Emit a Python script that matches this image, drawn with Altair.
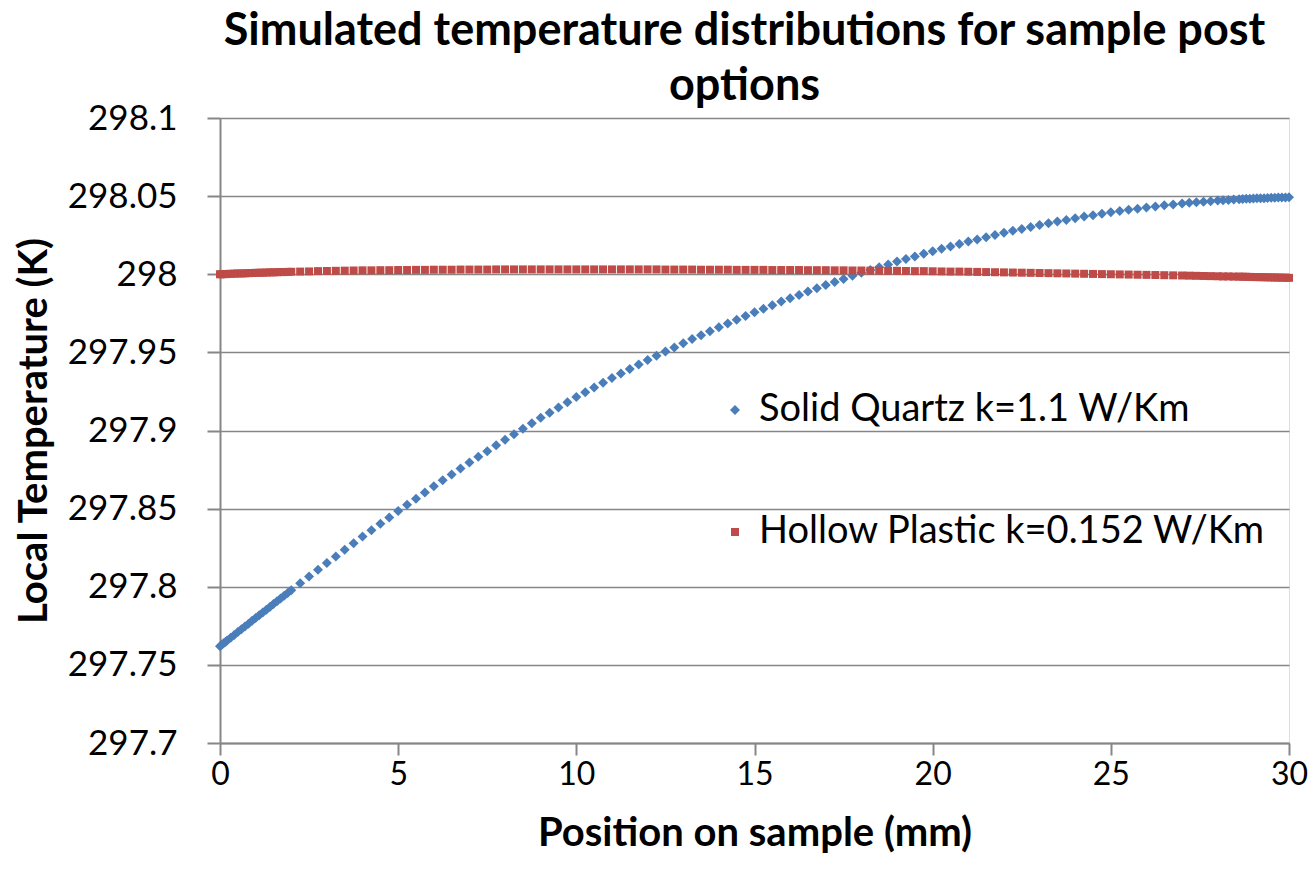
import altair as alt
import pandas as pd

# Position along the sample (mm) -- same mesh nodes for both series
position_mm = [
    0, 0.05, 0.1, 0.15, 0.2, 0.3, 0.4, 0.5, 0.6, 0.7, 0.8, 0.9, 1.0,
    1.1, 1.2, 1.3, 1.4, 1.5, 1.6, 1.7, 1.8, 1.9, 2.0,
    2.25, 2.5, 2.75, 3.0, 3.25, 3.5, 3.75, 4.0, 4.25, 4.5, 4.75, 5.0,
    5.25, 5.5, 5.75, 6.0, 6.25, 6.5, 6.75, 7.0, 7.25, 7.5, 7.75, 8.0,
    8.25, 8.5, 8.75, 9.0, 9.25, 9.5, 9.75, 10.0, 10.25, 10.5, 10.75, 11.0,
    11.25, 11.5, 11.75, 12.0, 12.25, 12.5, 12.75, 13.0, 13.25, 13.5, 13.75, 14.0,
    14.25, 14.5, 14.75, 15.0, 15.25, 15.5, 15.75, 16.0, 16.25, 16.5, 16.75, 17.0,
    17.25, 17.5, 17.75, 18.0, 18.25, 18.5, 18.75, 19.0, 19.25, 19.5, 19.75, 20.0,
    20.25, 20.5, 20.75, 21.0, 21.25, 21.5, 21.75, 22.0, 22.25, 22.5, 22.75, 23.0,
    23.25, 23.5, 23.75, 24.0, 24.25, 24.5, 24.75, 25.0, 25.25, 25.5, 25.75, 26.0,
    26.25, 26.5, 26.75, 27.0,
    27.2, 27.4, 27.6, 27.8, 28.0, 28.15, 28.3, 28.45, 28.6, 28.7, 28.8, 28.9, 29.0,
    29.1, 29.2, 29.3, 29.4, 29.5, 29.6, 29.7, 29.8, 29.9, 30.0,
]

# Solid Quartz k=1.1 W/Km  (K)
quartz_K = [
    297.7620, 297.7629, 297.7638, 297.7647, 297.7656, 297.7674, 297.7692, 297.7710,
    297.7728, 297.7746, 297.7764, 297.7782, 297.7800,
    297.7818, 297.7836, 297.7853, 297.7871, 297.7889, 297.7907, 297.7925, 297.7942, 297.7960, 297.7978,
    297.8022, 297.8065, 297.8109, 297.8152, 297.8194, 297.8237, 297.8279, 297.8321,
    297.8362, 297.8403, 297.8444, 297.8485, 297.8525, 297.8564, 297.8604, 297.8643,
    297.8681, 297.8719, 297.8757, 297.8795, 297.8832, 297.8868, 297.8905, 297.8941,
    297.8976, 297.9011, 297.9046, 297.9081, 297.9114, 297.9148, 297.9181, 297.9214,
    297.9245, 297.9275, 297.9306, 297.9336, 297.9365, 297.9394, 297.9422, 297.9451,
    297.9478, 297.9505, 297.9532, 297.9559, 297.9585, 297.9610, 297.9636, 297.9661,
    297.9685, 297.9709, 297.9733, 297.9757, 297.9780, 297.9802, 297.9825, 297.9847,
    297.9868, 297.9889, 297.9910, 297.9931, 297.9951, 297.9970, 297.9990, 298.0009,
    298.0027, 298.0045, 298.0063, 298.0081, 298.0098, 298.0114, 298.0131, 298.0147,
    298.0163, 298.0178, 298.0194, 298.0209, 298.0223, 298.0237, 298.0251, 298.0265,
    298.0278, 298.0290, 298.0303, 298.0315, 298.0326, 298.0337, 298.0348, 298.0359,
    298.0369, 298.0378, 298.0388, 298.0397, 298.0405, 298.0413, 298.0420, 298.0428,
    298.0434, 298.0441, 298.0447, 298.0453,
    298.0457, 298.0461, 298.0464, 298.0468, 298.0472, 298.0474, 298.0476, 298.0478,
    298.0480, 298.0481, 298.0483, 298.0484, 298.0485,
    298.0486, 298.0487, 298.0487, 298.0488, 298.0489, 298.0490, 298.0491, 298.0491, 298.0492, 298.0493,
]

# Hollow Plastic k=0.152 W/Km  (K)
plastic_K = [
    298.0000, 298.0000, 298.0001, 298.0001, 298.0002, 298.0003, 298.0004, 298.0005,
    298.0005, 298.0006, 298.0007, 298.0008, 298.0009,
    298.0010, 298.0010, 298.0011, 298.0012, 298.0012, 298.0013, 298.0014, 298.0014, 298.0015, 298.0016,
    298.0017, 298.0018, 298.0020, 298.0021, 298.0022, 298.0023, 298.0024, 298.0025,
    298.0025, 298.0026, 298.0026, 298.0027, 298.0027, 298.0028, 298.0028, 298.0029,
    298.0029, 298.0029, 298.0030, 298.0030, 298.0030, 298.0030, 298.0031, 298.0031,
    298.0031, 298.0031, 298.0031, 298.0031, 298.0031, 298.0031, 298.0031, 298.0031,
    298.0031, 298.0031, 298.0031, 298.0031, 298.0031, 298.0031, 298.0031, 298.0031,
    298.0031, 298.0030, 298.0030, 298.0030, 298.0030, 298.0029, 298.0029, 298.0029,
    298.0029, 298.0028, 298.0028, 298.0028, 298.0028, 298.0027, 298.0027, 298.0027,
    298.0027, 298.0026, 298.0026, 298.0026, 298.0025, 298.0025, 298.0024, 298.0024,
    298.0023, 298.0023, 298.0022, 298.0022, 298.0021, 298.0020, 298.0020, 298.0019,
    298.0018, 298.0017, 298.0017, 298.0016, 298.0015, 298.0014, 298.0013, 298.0012,
    298.0011, 298.0010, 298.0009, 298.0008, 298.0007, 298.0006, 298.0005, 298.0004,
    298.0003, 298.0002, 298.0001, 298.0000, 297.9999, 297.9998, 297.9997, 297.9996,
    297.9995, 297.9994, 297.9993, 297.9992,
    297.9991, 297.9990, 297.9989, 297.9988, 297.9987, 297.9986, 297.9986, 297.9985,
    297.9985, 297.9984, 297.9984, 297.9983, 297.9982,
    297.9982, 297.9981, 297.9981, 297.9980, 297.9980, 297.9979, 297.9979, 297.9978, 297.9978, 297.9977,
]

series_names = ["Solid Quartz k=1.1 W/Km", "Hollow Plastic k=0.152 W/Km"]
series_colors = ["#4A7EBB", "#BE4B48"]
series_shapes = ["diamond", "square"]
series_sizes = [100, 64]

y_ticks = [297.7, 297.75, 297.8, 297.85, 297.9, 297.95, 298.0, 298.05, 298.1]
x_ticks = [0, 5, 10, 15, 20, 25, 30]

title_lines = ["Simulated temperature distributions for sample post", "options"]
x_title = "Position on sample (mm)"
y_title = "Local Temperature (K)"

assert len(position_mm) == len(quartz_K) == len(plastic_K)

rows = []
for i, (vals, name) in enumerate([(quartz_K, series_names[0]), (plastic_K, series_names[1])]):
    for x, t in zip(position_mm, vals):
        rows.append({"pos": x, "temp": t, "series": name, "draw": i})
df = pd.DataFrame(rows)

FONT = "Lato"
GRID = "#868686"

chart = (
    alt.Chart(df)
    .mark_point(filled=True, opacity=1)
    .encode(
        x=alt.X(
            "pos:Q",
            scale=alt.Scale(domain=[0, 30], nice=False, zero=False),
            axis=alt.Axis(
                values=x_ticks, title=x_title, grid=False, tickSize=12,
                labelPadding=4, titlePadding=23, format="d", labelFlush=False,
                labelFontSize=32,
            ),
        ),
        y=alt.Y(
            "temp:Q",
            scale=alt.Scale(domain=[297.7, 298.1], nice=False, zero=False),
            axis=alt.Axis(
                values=y_ticks, title=y_title, grid=True, tickSize=13,
                labelPadding=30, titlePadding=13, format="~g", labelFontSize=35,
            ),
        ),
        color=alt.Color(
            "series:N",
            scale=alt.Scale(domain=series_names, range=series_colors),
            title=None,
            legend=alt.Legend(
                orient="none", legendX=496, legendY=273, labelFont=FONT,
                labelFontSize=38, labelColor="black", symbolSize=30,
                rowPadding=84, labelLimit=700, labelOffset=5,
            ),
        ),
        shape=alt.Shape(
            "series:N",
            scale=alt.Scale(domain=series_names, range=series_shapes),
            title=None,
        ),
        size=alt.Size(
            "series:N",
            scale=alt.Scale(domain=series_names, range=series_sizes),
            legend=None,
        ),
        order=alt.Order("draw:Q"),
    )
    .properties(
        width=1069,
        height=625,
        autosize=alt.AutoSizeParams(type="none"),
        padding={"left": 220, "top": 118, "right": 24, "bottom": 136},
        title=alt.TitleParams(
            text=title_lines, font=FONT, fontSize=45, fontWeight="bold",
            color="black", anchor="middle", frame="group", lineHeight=55,
            offset=12, dx=-10, dy=20,
        ),
    )
    .configure_view(stroke=None)
    .configure(background="white")
    .configure_axis(
        labelFont=FONT, labelColor="black",
        titleFont=FONT, titleFontSize=40, titleFontWeight="bold", titleColor="black",
        domainColor=GRID, domainWidth=2, tickColor=GRID, tickWidth=2,
        gridColor=GRID, gridWidth=1.5,
    )
)

chart.save("out.html", embed_options={"renderer": "svg", "actions": False})
